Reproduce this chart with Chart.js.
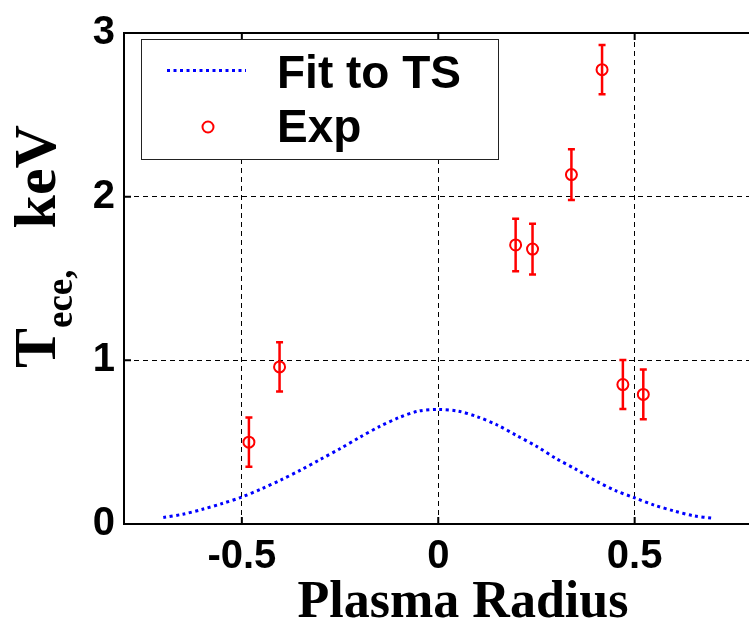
<!DOCTYPE html>
<html>
<head>
<meta charset="utf-8">
<script src="https://cdn.jsdelivr.net/npm/chart.js@4/dist/chart.umd.min.js"></script>
<style>
  html, body { margin: 0; padding: 0; background: #fff; overflow: hidden; }
  canvas { display: block; }
</style>
</head>
<body>
<canvas id="chart" width="760" height="623"></canvas>
<script>
// values

// fit to Thomson scattering profile
const fitR = [-0.70, -0.65, -0.60, -0.55, -0.50, -0.45, -0.40, -0.35, -0.30, -0.25,
              -0.20, -0.15, -0.10, -0.05, 0.00, 0.05, 0.10, 0.15, 0.20, 0.25,
              0.30, 0.35, 0.40, 0.45, 0.50, 0.55, 0.60, 0.65, 0.70];
const fitT = [0.04, 0.06, 0.09, 0.125, 0.165, 0.215, 0.27, 0.33, 0.395, 0.46,
              0.53, 0.595, 0.65, 0.69, 0.70, 0.69, 0.655, 0.605, 0.54, 0.475,
              0.40, 0.335, 0.265, 0.205, 0.16, 0.115, 0.08, 0.05, 0.035];

// ECE measurements with error bars
const expR = [-0.482, -0.404, 0.197, 0.240, 0.339, 0.417, 0.470, 0.522];
const expT = [0.50, 0.96, 1.705, 1.68, 2.135, 2.776, 0.852, 0.792];
const expErr = [0.15, 0.15, 0.16, 0.155, 0.155, 0.15, 0.15, 0.152];

const xTicks = [-0.5, 0, 0.5];
const xTickLabels = ['-0.5', '0', '0.5'];
const yTicks = [0, 1, 2, 3];
const yTickLabels = ['0', '1', '2', '3'];

const seriesNames = ['Fit to TS', 'Exp'];

function toPoints(xs, ys) {
    var pts = [];
    for (var i = 0; i < xs.length; i++) {
        pts.push({x: xs[i], y: ys[i]});
    }
    return pts;
}

// error bars, top box line, inward ticks, axis titles and the legend box
const decorations = {
    id: 'decorations',
    afterDatasetsDraw(chart) {
        const ctx = chart.ctx;
        const xs = chart.scales.x, ys = chart.scales.y;
        const ds = chart.data.datasets[1];
        ctx.save();
        ctx.strokeStyle = ds.borderColor;
        ctx.lineWidth = 2.5;
        for (var i = 0; i < expR.length; i++) {
            var px = xs.getPixelForValue(expR[i]);
            var top = ys.getPixelForValue(expT[i] + expErr[i]);
            var bot = ys.getPixelForValue(expT[i] - expErr[i]);
            ctx.beginPath();
            ctx.moveTo(px, top); ctx.lineTo(px, bot);
            ctx.moveTo(px - 3.5, top); ctx.lineTo(px + 3.5, top);
            ctx.moveTo(px - 3.5, bot); ctx.lineTo(px + 3.5, bot);
            ctx.stroke();
        }
        ctx.restore();
    },
    afterDraw(chart) {
        const ctx = chart.ctx;
        const a = chart.chartArea;
        const xs = chart.scales.x, ys = chart.scales.y;
        ctx.save();

        // top and right edges of the box
        ctx.strokeStyle = '#000';
        ctx.lineWidth = 2;
        ctx.beginPath();
        ctx.moveTo(a.left - 1, a.top);
        ctx.lineTo(a.right, a.top);
        ctx.lineTo(a.right, a.bottom);
        ctx.stroke();

        // ticks pointing inwards
        ctx.beginPath();
        xTicks.forEach(function (v) {
            var p = xs.getPixelForValue(v);
            ctx.moveTo(p, a.bottom); ctx.lineTo(p, a.bottom - 7);
            ctx.moveTo(p, a.top); ctx.lineTo(p, a.top + 7);
        });
        yTicks.forEach(function (v) {
            var p = ys.getPixelForValue(v);
            ctx.moveTo(a.left, p); ctx.lineTo(a.left + 7, p);
        });
        ctx.stroke();

        // legend box
        const lx = 141, ly = 39, lw = 357, lh = 120;
        ctx.fillStyle = '#fff';
        ctx.fillRect(lx, ly, lw, lh);
        ctx.strokeStyle = '#222';
        ctx.lineWidth = 1;
        ctx.strokeRect(lx + 0.5, ly + 0.5, lw, lh);

        const fit = chart.data.datasets[0];
        const exp = chart.data.datasets[1];
        ctx.strokeStyle = fit.borderColor;
        ctx.lineWidth = fit.borderWidth;
        ctx.setLineDash(fit.borderDash);
        ctx.beginPath();
        ctx.moveTo(167, 70.5);
        ctx.lineTo(246, 70.5);
        ctx.stroke();
        ctx.setLineDash([]);

        ctx.strokeStyle = exp.borderColor;
        ctx.lineWidth = exp.borderWidth;
        ctx.beginPath();
        ctx.arc(208, 127, exp.pointRadius, 0, Math.PI * 2);
        ctx.stroke();

        ctx.fillStyle = '#000';
        ctx.font = 'bold 46px "Liberation Sans", Arial, sans-serif';
        ctx.textBaseline = 'alphabetic';
        ctx.textAlign = 'left';
        ctx.fillText(fit.label, 277, 88);
        ctx.fillText(exp.label, 277, 142);

        // x axis title
        ctx.font = 'bold 52px "Liberation Serif", "Times New Roman", serif';
        ctx.textAlign = 'center';
        ctx.fillText('Plasma Radius', 463, 617);

        // y axis title with subscript
        ctx.translate(55, 368);
        ctx.rotate(-Math.PI / 2);
        ctx.textAlign = 'left';
        const big = 'bold 60px "Liberation Serif", "Times New Roman", serif';
        const small = 'bold 37px "Liberation Serif", "Times New Roman", serif';
        var pos = 0;
        ctx.font = big;
        ctx.fillText('T', pos, 0);
        pos += ctx.measureText('T').width;
        ctx.font = small;
        ctx.fillText('ece,', pos, 17);
        pos += ctx.measureText('ece,').width;
        ctx.font = big;
        pos += ctx.measureText(' ').width + 26;
        ctx.fillText('keV', pos, 0);

        ctx.restore();
    }
};

const tickFont = {family: '"Liberation Sans", Arial, sans-serif', size: 40, weight: 'bold'};

chart = new Chart(document.getElementById('chart'), {
    type: 'scatter',
    data: {
        datasets: [
            {
                label: seriesNames[0],
                data: toPoints(fitR, fitT),
                showLine: true,
                borderColor: '#0000ff',
                borderWidth: 3,
                borderDash: [3, 3.5],
                pointRadius: 0,
                fill: false,
                tension: 0.3
            },
            {
                label: seriesNames[1],
                data: toPoints(expR, expT),
                showLine: false,
                borderColor: '#ff0000',
                backgroundColor: 'rgba(0,0,0,0)',
                borderWidth: 2,
                pointRadius: 5.5,
                pointHoverRadius: 5.5
            }
        ]
    },
    options: {
        responsive: false,
        animation: false,
        events: [],
        layout: {padding: {left: 0, right: 3, top: 25, bottom: 0}},
        plugins: {
            legend: {display: false},
            tooltip: {enabled: false}
        },
        scales: {
            x: {
                type: 'linear',
                min: -0.8,
                max: 0.8,
                afterBuildTicks: function (s) { s.ticks = xTicks.map(function (v) { return {value: v}; }); },
                afterFit: function (s) { s.height = 99; },
                grid: {
                    drawTicks: false,
                    color: '#000',
                    lineWidth: 1
                },
                border: {display: true, color: '#000', width: 2, dash: [5, 4]},
                ticks: {
                    font: tickFont,
                    color: '#000',
                    padding: 9,
                    autoSkip: false,
                    maxRotation: 0,
                    callback: function (v) { return xTickLabels[xTicks.indexOf(v)]; }
                }
            },
            y: {
                type: 'linear',
                min: 0,
                max: 3,
                afterBuildTicks: function (s) { s.ticks = yTicks.map(function (v) { return {value: v}; }); },
                afterFit: function (s) { s.width = 124; },
                grid: {
                    drawTicks: false,
                    color: function (c) {
                        return (c.tick && (c.tick.value === 0 || c.tick.value === 3)) ? 'rgba(0,0,0,0)' : '#000';
                    },
                    lineWidth: 1
                },
                border: {display: true, color: '#000', width: 2, dash: [5, 4]},
                ticks: {
                    font: tickFont,
                    color: '#000',
                    padding: 9,
                    autoSkip: false,
                    callback: function (v) { return yTickLabels[yTicks.indexOf(v)]; }
                }
            }
        }
    },
    plugins: [decorations]
});
</script>
</body>
</html>
